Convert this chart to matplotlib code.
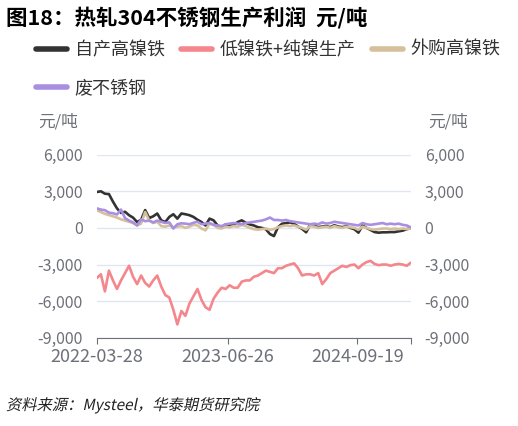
import matplotlib
matplotlib.use('Agg')
import matplotlib.pyplot as plt
import matplotlib.dates as mdates
from matplotlib.ticker import FuncFormatter, FixedLocator
from matplotlib.textpath import TextPath
from matplotlib.patches import PathPatch
from matplotlib.font_manager import FontProperties
from matplotlib.transforms import Affine2D
import pandas as pd

plt.rcParams['font.family'] = ['Noto Sans CJK SC', 'DejaVu Sans']

# biweekly sample dates
dates = pd.date_range('2022-03-28', periods=79, freq='14D')

self_nife = [2940, 3000, 2800, 2770, 2150, 1600, 1230, 1320, 1040, 840,
             480, 670, 1460, 810, 950, 1180, 620, 480, 900, 1120,
             760, 1180, 1120, 1040, 900, 670, 480, 200, 760, 620,
             200, 60, 280, 200, 250, 480, 620, 420, 280, 200,
             60, 0, -110, -500, -670, 60, 340, 390, 450, 340,
             110, -80, -360, 280, 200, 60, 110, 140, 60, 220,
             110, 60, 140, 0, -110, -390, 200, 0, -170, -340,
             -390, -360, -360, -340, -340, -280, -220, -110, 0]

low_nife_ni = [-4100, -3800, -5200, -3500, -4300, -5000, -4300, -3700, -3100, -4000,
               -4600, -3900, -4500, -4800, -4300, -3900, -4800, -5500, -5700, -6700,
               -7900, -6800, -7200, -6200, -5600, -5000, -5900, -6500, -6700, -5800,
               -5300, -4900, -5000, -4700, -4900, -4900, -4400, -4300, -4300, -4000,
               -3900, -3700, -3500, -3600, -3700, -3300, -3300, -3100, -3000, -2900,
               -3300, -3900, -3800, -3800, -3900, -3700, -4600, -4200, -3700, -3500,
               -3300, -3100, -3200, -3050, -3000, -3300, -3000, -2800, -2700, -2950,
               -3050, -3000, -3000, -3100, -3000, -2950, -3000, -3100, -2850]

bought_nife = [1450, 1300, 1150, 1050, 950, 850, 700, 600, 500, 400,
               200, 350, 1300, 600, 400, 500, 150, 100, 200, 50,
               100, 150, 0, 100, 250, 200, -50, -200, 350, 250,
               0, -50, 100, 50, 150, 100, 250, 150, 0, -100,
               -150, -100, -50, -150, -100, 50, 150, 200, 150, 200,
               100, 0, -150, 150, 100, 0, 50, 100, 0, 150,
               50, 0, 100, 50, 0, -150, 100, 0, -100, -150,
               -100, -50, -50, -100, -50, -100, -50, -100, -50]

scrap_ss = [1600, 1500, 1450, 1250, 1200, 1100, 1500, 800, 600, 450,
            200, 700, 550, 600, 450, 600, 500, 400, 450, -50,
            300, 380, 350, 300, 420, 500, 300, 350, 400, 250,
            200, 150, 300, 350, 400, 350, 300, 400, 450, 500,
            550, 600, 700, 850, 650, 650, 600, 650, 550, 500,
            450, 400, 350, 300, 350, 300, 450, 350, 400, 500,
            450, 400, 350, 300, 250, 200, 400, 300, 250, 300,
            350, 400, 300, 350, 300, 350, 250, 200, 50]

names = ['自产高镍铁', '低镍铁+纯镍生产', '外购高镍铁', '废不锈钢']
colors = ['#333333', '#f4868c', '#d6c09b', '#a98fe2']
yticks = [-9000, -6000, -3000, 0, 3000, 6000]
xtick_dates = ['2022-03-28', '2023-06-26', '2024-09-19']

fig = plt.figure(figsize=(5.18, 4.26), dpi=100)
ax = fig.add_axes([0.187, 0.207, 0.606, 0.430])

lines = []
for vals, name, c in zip([self_nife, low_nife_ni, bought_nife, scrap_ss], names, colors):
    ln, = ax.plot(dates, vals, color=c, lw=1.9, label=name, solid_capstyle='round')
    lines.append(ln)

ax.set_ylim(-9000, 6000)
ax.set_xlim(dates[0], dates[-1])
ax.set_yticks(yticks)
fmt = FuncFormatter(lambda v, p: f'{int(v):,}')
ax.yaxis.set_major_formatter(fmt)
ax.grid(axis='y', color='#e0e6f1', lw=1)
ax.set_axisbelow(True)

tick_pos = [mdates.date2num(pd.Timestamp(d)) for d in xtick_dates] + [mdates.date2num(dates[-1])]
ax.xaxis.set_major_locator(FixedLocator(tick_pos))
ax.set_xticklabels(xtick_dates + [''])

for s in ['left', 'right', 'top']:
    ax.spines[s].set_visible(False)
ax.spines['bottom'].set_color('#6e7079')
ax.tick_params(axis='x', colors='#6e7079', length=4, labelsize=13, pad=3)
ax.tick_params(axis='y', length=0, labelsize=11.5, labelcolor='#6e7079', pad=10)

ax2 = ax.twinx()
ax2.set_ylim(-9000, 6000)
ax2.set_yticks(yticks)
ax2.yaxis.set_major_formatter(fmt)
for s in ['left', 'right', 'top', 'bottom']:
    ax2.spines[s].set_visible(False)
ax2.tick_params(axis='y', length=0, labelsize=11.5, labelcolor='#6e7079', pad=10)

fig.text(38 / 518, 1 - 122 / 426, '元/吨', fontsize=12, color='#6e7079', va='center')
fig.text(428 / 518, 1 - 122 / 426, '元/吨', fontsize=12, color='#6e7079', va='center')

fig.text(6 / 518, 1 - 18 / 426, '图18：热轧304不锈钢生产利润  元/吨', fontsize=15.5,
         fontweight='bold', va='center')

# row-major order for a 3-column legend
order = [0, 3, 1, 2]
leg = fig.legend([lines[i] for i in order], [names[i] for i in order],
                 loc='upper left', bbox_to_anchor=(36 / 518, 1 - 41 / 426), ncol=3,
                 frameon=False, fontsize=13, handlelength=1.7, handletextpad=0.45,
                 columnspacing=0.9, labelspacing=1.1, borderpad=0, borderaxespad=0)
for t in leg.get_texts():
    t.set_color('#333333')
for h in leg.get_lines():
    h.set_linewidth(4)

# slanted source note (CJK font has no italic face)
src = TextPath((0, 0), '资料来源：Mysteel，华泰期货研究院',
               prop=FontProperties(family='Noto Sans CJK SC', size=11))
tr = Affine2D().skew_deg(12, 0).scale(100 / 72).translate(6, 426 - 410)
fig.add_artist(PathPatch(src, transform=tr, color='#222222', lw=0))

fig.savefig('out.png', dpi=100)
